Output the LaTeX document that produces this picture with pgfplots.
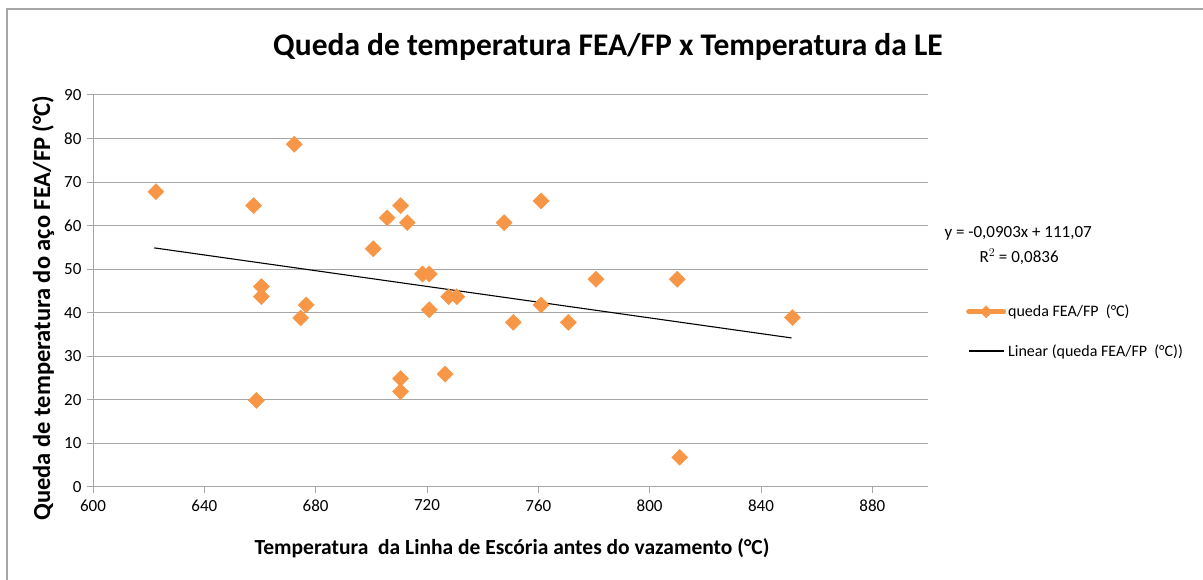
\documentclass[border=0pt]{standalone}
\usepackage{fontspec}
\setmainfont{Carlito}
\usepackage{pgfplots}
\pgfplotsset{compat=1.18}
\definecolor{mkorange}{HTML}{F79646}
\definecolor{gridgray}{HTML}{A6A6A6}
\begin{document}
\begin{tikzpicture}
\useasboundingbox (0pt,0pt) rectangle (1203pt,580pt);
\draw[gridgray, line width=1.5pt] (7pt,0pt) -- (7pt,571pt) -- (1203pt,571pt);
\begin{axis}[
  at={(93pt,93pt)}, anchor=south west, scale only axis,
  width=835pt, height=392pt,
  xmin=600, xmax=900, ymin=0, ymax=90,
  xtick={600,640,...,880}, ytick={0,10,...,90},
  axis x line*=bottom, axis y line*=left,
  axis line style={-, gridgray, line width=1pt},
  ymajorgrids, grid style={gridgray, line width=1pt},
  tick style={gridgray, line width=1pt}, tick align=outside,
  major tick length=6pt,
  /pgf/number format/assume math mode=true,
  tick label style={font=\fontsize{17}{17}\selectfont, black},
  xticklabel style={yshift=-3pt},
  yticklabel style={xshift=-2pt},
  clip=false,
  legend style={draw=none, fill=none, at={(1.0455,0.397)}, anchor=west,
    font=\fontsize{16}{16}\selectfont, row sep=22pt, inner sep=0pt,
    /tikz/every even column/.append style={column sep=2pt}},
  legend cell align=left,
]
\addplot[only marks, mark=square*, mark size=5.7pt,
  mark options={rotate=45, fill=mkorange, draw=mkorange},
  legend image code/.code={
    \draw[mkorange, line width=5pt, line cap=round] (0pt,0pt) -- (35pt,0pt);
    \fill[mkorange] (17.5pt,-6pt) -- (23.5pt,0pt) -- (17.5pt,6pt) -- (11.5pt,0pt) -- cycle;
  }] coordinates {
(622.6,67.8) (672.3,78.7) (657.7,64.6) (660.5,46.0) (660.5,43.7)
(658.7,19.9) (676.6,41.8) (674.6,38.8) (700.7,54.7) (705.7,61.8)
(710.5,64.6) (712.9,60.7) (718.4,48.9) (720.8,48.9) (720.8,40.7)
(710.5,24.9) (710.5,21.9) (726.5,25.9) (727.8,43.7) (730.7,43.7)
(747.7,60.7) (751.0,37.8) (761.0,65.7) (761.0,41.8) (770.8,37.8)
(780.7,47.7) (809.9,47.7) (810.8,6.8) (851.3,38.9)
};
\addlegendentry{queda FEA/FP~ (°C)}
\addplot[black, line width=1.1pt,
  legend image code/.code={\draw[black, line width=1.1pt] (0pt,0pt) -- (35pt,0pt);}]
  coordinates {(622,54.90) (851,34.22)};
\addlegendentry{Linear (queda FEA/FP~ (°C))}
\end{axis}
\node[font=\bfseries\fontsize{31.5}{31.5}\selectfont] at (608pt,533pt) {Queda de temperatura FEA/FP x Temperatura da LE};
\node[font=\bfseries\fontsize{21.5}{21.5}\selectfont] at (512pt,32pt) {Temperatura~ da Linha de Escória antes do vazamento (°C)};
\node[font=\bfseries\fontsize{24.5}{24.5}\selectfont, rotate=90] at (43pt,272pt) {Queda de temperatura do aço FEA/FP (°C)};
\node[font=\fontsize{17}{17}\selectfont, anchor=west] at (941pt,347pt) {y = -0,0903x + 111,07};
\node[font=\fontsize{17}{17}\selectfont, anchor=west] at (976pt,323pt) {R$^2$ = 0,0836};
\end{tikzpicture}
\end{document}
